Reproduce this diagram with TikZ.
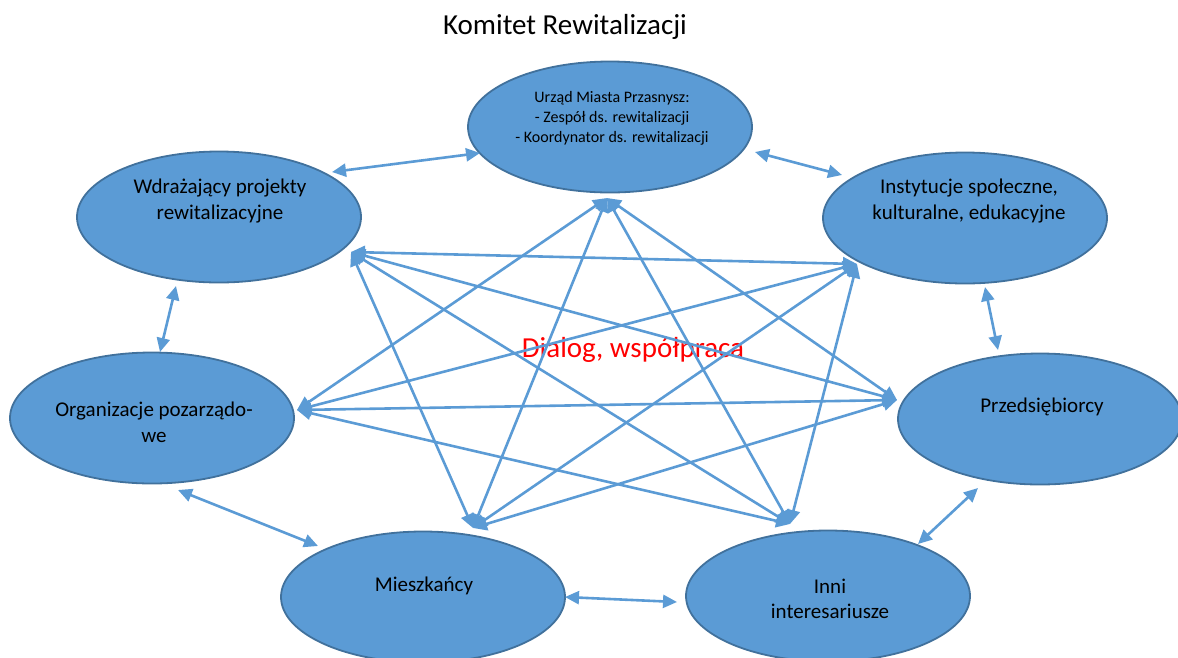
\documentclass[tikz,border=0pt]{standalone}
\usepackage{fontspec}
\setmainfont{Carlito}
\usetikzlibrary{shapes.geometric,arrows.meta}
\definecolor{obl}{HTML}{5B9BD5}
\definecolor{obd}{HTML}{41719C}
\tikzset{
  bubble/.style={ellipse, draw=obd, fill=obl, line width=1.8pt, inner sep=0pt, minimum width=284pt, minimum height=131pt},
  lbl/.style={align=center, inner sep=0pt, text=black, font=\fontsize{21}{25.6}\selectfont},
  smalllbl/.style={align=center, inner sep=0pt, text=black, font=\fontsize{16}{20}\selectfont},
  link/.style={draw=obl, line width=2.6pt, {Triangle[length=14pt,width=13pt]}-{Triangle[length=14pt,width=13pt]}},
}
\begin{document}
\begin{tikzpicture}[x=1pt,y=-1pt]
\useasboundingbox (0,0) rectangle (1178,657);

% title
\node[inner sep=0pt, font=\fontsize{29}{35}\selectfont] (title) at (565,27) {Komitet Rewitalizacji};

% ellipses
\node[bubble] (U) at (610,127) {};
\node[bubble] (W) at (219,217) {};
\node[bubble] (I) at (965,218) {};
\node[bubble] (O) at (152,418) {};
\node[bubble] (P) at (1040,419) {};
\node[bubble] (M) at (423,597) {};
\node[bubble] (N) at (828,596) {};

% labels
\node[smalllbl] (Ut) at (612,118) {Urząd Miasta Przasnysz:\\- Zespół ds. rewitalizacji\\- Koordynator ds. rewitalizacji};
\node[lbl] (Wt) at (220,201) {Wdrażający projekty\\rewitalizacyjne};
\node[lbl] (It) at (969,201) {Instytucje społeczne,\\kulturalne, edukacyjne};
\node[lbl] (Ot) at (154,422) {Organizacje pozarządo-\\we};
\node[lbl] (Pt) at (1042,407) {Przedsiębiorcy};
\node[lbl] (Mt) at (424,586) {Mieszkańcy};
\node[lbl] (Nt) at (830,599) {Inni\\interesariusze};

% center text
\node[inner sep=0pt, text=red, font=\fontsize{29}{35}\selectfont] (dialog) at (633,350) {Dialog, współpraca};

% outer ring end points
\coordinate (wu1) at (332,172); \coordinate (wu2) at (480,153);
\coordinate (ui1) at (755,152); \coordinate (ui2) at (842,175);
\coordinate (ip1) at (985,287); \coordinate (ip2) at (998,350);
\coordinate (pn1) at (978,488); \coordinate (pn2) at (918,544);
\coordinate (nm1) at (677,602); \coordinate (nm2) at (565,597);
\coordinate (mo1) at (318,546); \coordinate (mo2) at (178,490);
\coordinate (ow1) at (160,352); \coordinate (ow2) at (176,286);

% hubs
\coordinate (uh) at (607,198);
\coordinate (wh) at (351,252);
\coordinate (ih) at (857,264);
\coordinate (oh) at (297,410);
\coordinate (ph) at (897,400);
\coordinate (mh) at (473,528);
\coordinate (nh) at (790,524);

% outer arrows
\draw[link] (wu1) -- (wu2);
\draw[link] (ui1) -- (ui2);
\draw[link] (ip1) -- (ip2);
\draw[link] (pn1) -- (pn2);
\draw[link] (nm1) -- (nm2);
\draw[link] (mo1) -- (mo2);
\draw[link] (ow1) -- (ow2);

% inner arrows
\draw[link] (uh) -- (oh);
\draw[link] (uh) -- (mh);
\draw[link] (uh) -- (nh);
\draw[link] (uh) -- (ph);
\draw[link] (wh) -- (ih);
\draw[link] (wh) -- (ph);
\draw[link] (wh) -- (mh);
\draw[link] (wh) -- (nh);
\draw[link] (ih) -- (oh);
\draw[link] (ih) -- (mh);
\draw[link] (ih) -- (nh);
\draw[link] (oh) -- (ph);
\draw[link] (oh) -- (nh);
\draw[link] (ph) -- (mh);
\end{tikzpicture}
\end{document}
